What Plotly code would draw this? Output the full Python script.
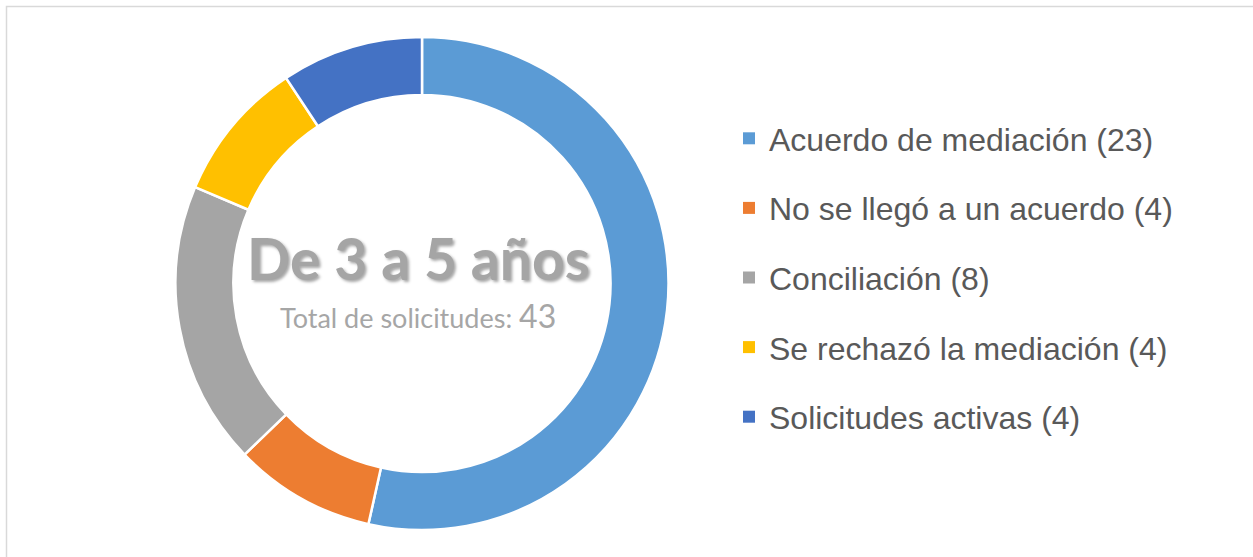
import plotly.graph_objects as go

categories = ["Acuerdo de mediación", "No se llegó a un acuerdo", "Conciliación",
              "Se rechazó la mediación", "Solicitudes activas"]
values = [23, 4, 8, 4, 4]
colors = ["#5B9BD5", "#ED7D31", "#A5A5A5", "#FFC000", "#4472C4"]
title_text = "De 3 a 5 años"
subtitle_text = "Total de solicitudes:"
total = sum(values)

W, H = 1253, 557
cx, cy, R = 422, 283.5, 246.5

fig = go.Figure()
fig.add_trace(go.Pie(
    labels=categories, values=values, sort=False, direction="clockwise", rotation=0,
    hole=0.765, marker=dict(colors=colors, line=dict(color="white", width=2.5)),
    textinfo="none", hoverinfo="label+value", showlegend=False,
    domain=dict(x=[(cx - R) / W, (cx + R) / W], y=[(H - cy - R) / H, (H - cy + R) / H]),
))
for i, (c, v) in enumerate(zip(categories, values)):
    fig.add_trace(go.Scatter(
        x=[None], y=[None], mode="markers", name=f"{c} ({v})",
        marker=dict(symbol="square", size=12, color=colors[i]),
        legendgroup=f"g{i}", showlegend=True,
    ))

fig.add_annotation(
    x=418 / W, y=1 - 258 / H, xref="paper", yref="paper", showarrow=False,
    text=title_text, xanchor="center", yanchor="middle",
    font=dict(family="Lato", size=57, color="#A5A5A5", weight="bold",
              shadow="2px 2px 3px rgba(0,0,0,0.35)"),
)
fig.add_annotation(
    x=418 / W, y=1 - 315 / H, xref="paper", yref="paper", showarrow=False,
    text=f"{subtitle_text} <span style='font-size:32px'>{total}</span>",
    xanchor="center", yanchor="middle",
    font=dict(family="Lato", size=27, color="#A6A6A6"),
)

fig.add_shape(type="rect", xref="paper", yref="paper",
              x0=6.5 / W, x1=1.05, y0=-0.1, y1=1 - 6.5 / H,
              line=dict(color="#D9D9D9", width=1.5), fillcolor="rgba(0,0,0,0)")

fig.update_layout(
    width=W, height=H, autosize=False,
    margin=dict(l=0, r=0, t=0, b=0),
    paper_bgcolor="white", plot_bgcolor="white",
    xaxis=dict(visible=False), yaxis=dict(visible=False),
    legend=dict(x=729 / W, y=1 - 111 / H, xanchor="left", yanchor="top",
                font=dict(family="Liberation Sans", size=32, color="#595959"),
                tracegroupgap=25, bgcolor="rgba(0,0,0,0)", itemsizing="trace"),
    showlegend=True,
)

fig.write_html("out.html", config={"displayModeBar": False},
               post_script="document.body.style.margin='0';document.body.style.overflow='hidden';")
